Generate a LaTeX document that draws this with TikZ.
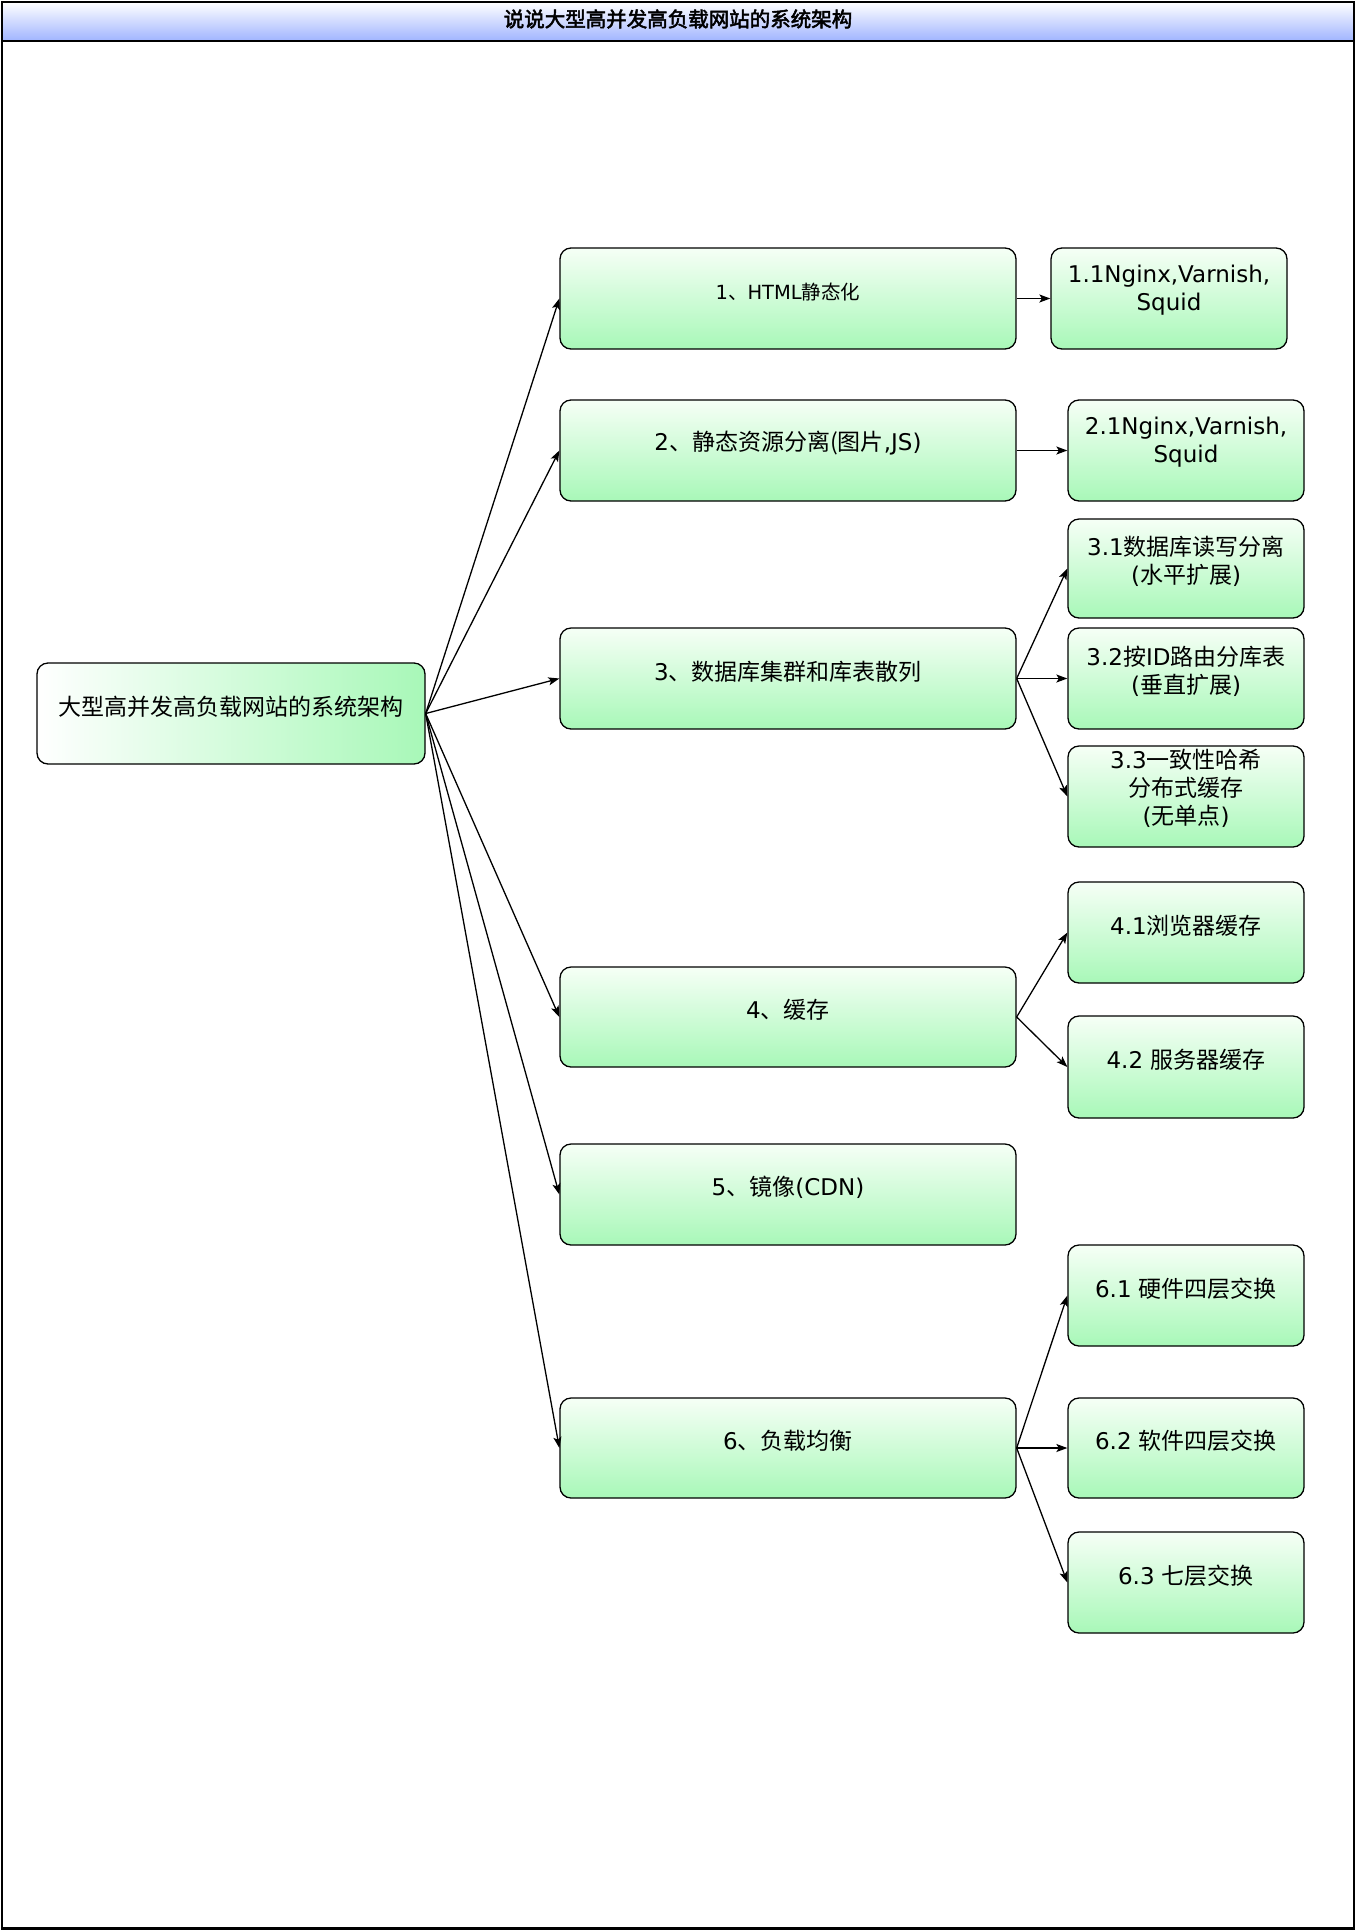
\documentclass[tikz,border=0pt]{standalone}
\usepackage{fontspec}
\setmainfont{DejaVu Sans}
\newfontfamily\cjk{Noto Sans CJK SC}
\newfontfamily\cjkb{Noto Sans CJK SC}[FakeBold=2.5]
\usetikzlibrary{arrows.meta}
\definecolor{gbot}{RGB}{168,248,184}
\definecolor{gtop}{RGB}{246,255,246}
\definecolor{tblue}{RGB}{160,180,255}
\tikzset{
  box/.style={draw=black, line width=1.3pt, rounded corners=11pt, top color=gtop, bottom color=gbot, inner sep=0pt},
  rootbox/.style={draw=black, line width=1.3pt, rounded corners=11pt, left color=white, right color=gbot, inner sep=0pt},
  txt/.style={align=center, font=\fontsize{23}{28}\selectfont, inner sep=0pt, text=black},
  stxt/.style={align=center, font=\fontsize{19.5}{24}\selectfont, inner sep=0pt, text=black},
  conn/.style={line width=1.3pt, -{Stealth[length=11pt,width=8pt,inset=2.5pt]}},
}
\newcommand{\mybox}[6]{% name, x1, y1, x2, y2, style
  \node[#6, minimum width=#4-#2, minimum height=#5-#3] (#1) at ({(#2+#4)/2},{-(#3+#5)/2}) {};}
\begin{document}
\begin{tikzpicture}[x=1pt,y=1pt]
\useasboundingbox (0,0) rectangle (1356,-1931);
\fill[white] (0,0) rectangle (1356,-1931);
% frame and title
\node[draw=black, line width=2.4pt, minimum width=1352, minimum height=1888, inner sep=0pt] (frame) at (678,-984.5) {};
\node[draw=black, line width=2.4pt, top color=white, bottom color=tblue, minimum width=1352, minimum height=39, inner sep=0pt] (title) at (678,-21.5) {};
\node[inner sep=0pt, font=\fontsize{20.5}{24}\selectfont\cjkb] (titletext) at (678,-19) {说说大型高并发高负载网站的系统架构};
% boxes
\mybox{root}{37}{663}{425}{764}{rootbox}
\mybox{n1}{560}{248}{1016}{349}{box}
\mybox{n11}{1051}{248}{1287}{349}{box}
\mybox{n2}{560}{400}{1016}{501}{box}
\mybox{n21}{1068}{400}{1304}{501}{box}
\mybox{n3}{560}{628}{1016}{729}{box}
\mybox{n31}{1068}{519}{1304}{618}{box}
\mybox{n32}{1068}{628}{1304}{729}{box}
\mybox{n33}{1068}{746}{1304}{847}{box}
\mybox{n4}{560}{967}{1016}{1067}{box}
\mybox{n41}{1068}{882}{1304}{983}{box}
\mybox{n42}{1068}{1016}{1304}{1118}{box}
\mybox{n5}{560}{1144}{1016}{1245}{box}
\mybox{n6}{560}{1398}{1016}{1498}{box}
\mybox{n61}{1068}{1245}{1304}{1346}{box}
\mybox{n62}{1068}{1398}{1304}{1498}{box}
\mybox{n63}{1068}{1532}{1304}{1633}{box}
% texts
\node[txt] (troot) at ([yshift=7]root.center) {\cjk 大型高并发高负载网站的系统架构};
\node[stxt] (tn1) at ([yshift=6]n1.center) {1{\cjk 、}HTML{\cjk 静态化}};
\node[txt] (tn11) at ([yshift=8]n11.center) {1.1Nginx,Varnish,\\Squid};
\node[txt] (tn2) at ([yshift=7]n2.center) {2{\cjk 、静态资源分离(图片},JS)};
\node[txt] (tn21) at ([yshift=8]n21.center) {2.1Nginx,Varnish,\\Squid};
\node[txt] (tn3) at ([yshift=7]n3.center) {3{\cjk 、数据库集群和库表散列}};
\node[txt] (tn31) at ([yshift=7]n31.center) {3.1{\cjk 数据库读写分离}\\({\cjk 水平扩展})};
\node[txt] (tn32) at ([yshift=7]n32.center) {3.2{\cjk 按}ID{\cjk 路由分库表}\\({\cjk 垂直扩展})};
\node[txt] (tn33) at ([yshift=8]n33.center) {3.3{\cjk 一致性哈希}\\{\cjk 分布式缓存}\\({\cjk 无单点})};
\node[txt] (tn4) at ([yshift=7]n4.center) {4{\cjk 、缓存}};
\node[txt] (tn41) at ([yshift=7]n41.center) {4.1{\cjk 浏览器缓存}};
\node[txt] (tn42) at ([yshift=7]n42.center) {4.2 {\cjk 服务器缓存}};
\node[txt] (tn5) at ([yshift=7]n5.center) {5{\cjk 、镜像}(CDN)};
\node[txt] (tn6) at ([yshift=7]n6.center) {6{\cjk 、负载均衡}};
\node[txt] (tn61) at ([yshift=7]n61.center) {6.1 {\cjk 硬件四层交换}};
\node[txt] (tn62) at ([yshift=7]n62.center) {6.2 {\cjk 软件四层交换}};
\node[txt] (tn63) at ([yshift=7]n63.center) {6.3 {\cjk 七层交换}};
% connectors
\foreach \t in {n1,n2,n3,n4,n5,n6} \draw[conn] (root.east) -- (\t.west);
\draw[conn] (n1.east) -- (n11.west);
\draw[conn] (n2.east) -- (n21.west);
\foreach \t in {n31,n32,n33} \draw[conn] (n3.east) -- (\t.west);
\foreach \t in {n41,n42} \draw[conn] (n4.east) -- (\t.west);
\foreach \t in {n61,n62,n63} \draw[conn] (n6.east) -- (\t.west);
\end{tikzpicture}
\end{document}
